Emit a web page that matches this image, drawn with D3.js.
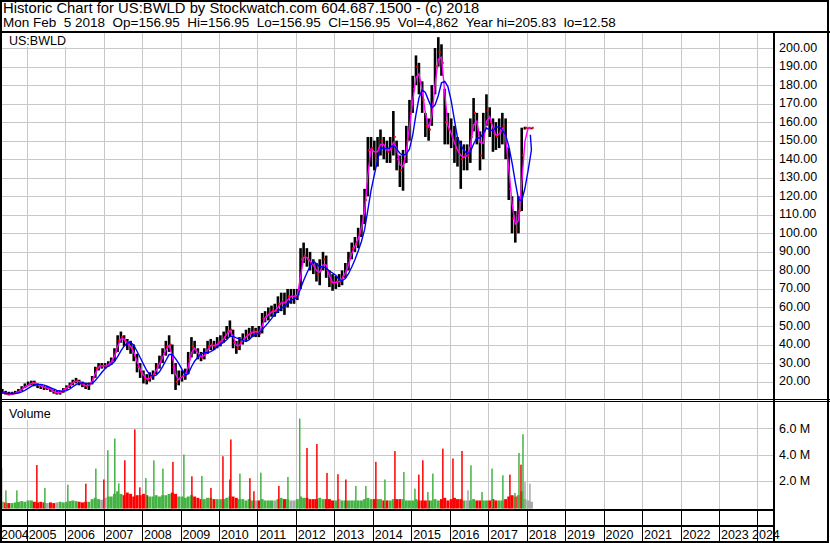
<!DOCTYPE html>
<html>
<head>
<meta charset="utf-8">
<script src="https://cdn.jsdelivr.net/npm/d3@7"></script>
<style>
  body { margin: 0; background: #fff; }
  text { font-family: "Liberation Sans", Arial, sans-serif; fill: #000; }
</style>
</head>
<body>
<div id="viz"></div>
<script>
// monthly bars, May 2004 .. Feb 2018
const firstMonth = "2004-05-15";
const lastMonth = "2018-02-15";
const lastDay = "2018-02-05";

const highs = [
  16, 15, 14.5, 14.5, 15, 16, 17.5, 19,
  20, 20.5, 20.5, 19, 18, 17.5, 17.5, 16.5, 15.5, 15, 15, 16.5,
  18, 19.5, 21, 22, 21, 20, 19, 19.5, 23, 28, 30, 30,
  30, 31, 33, 38, 45, 47, 45, 43, 42, 40, 35, 30,
  26, 24, 25, 26, 30, 34, 38, 42, 45, 40, 30, 26,
  26, 27, 36, 44, 42, 38, 36, 38, 42, 43, 42, 44,
  45, 47, 50, 53, 48, 42, 44, 46, 48, 49, 50, 49,
  50, 57, 58, 60, 61, 62, 66, 68, 68, 70, 70, 70,
  70, 92, 95, 92, 90, 86, 84, 86, 90, 88, 80, 78,
  77, 78, 80, 84, 90, 95, 98, 103, 110, 124, 152, 152,
  150, 152, 156, 152, 150, 152, 166, 150, 142, 145, 158, 172,
  185, 196, 192, 182, 165, 162, 180, 200, 205.83, 202, 178, 165,
  162, 158, 152, 150, 148, 148, 162, 173, 165, 155, 165, 175,
  168, 162, 160, 162, 165, 162, 146, 120, 112, 120, 157, 157.5,
  157, 156.95
];
const lows = [
  13.5, 13, 12.6, 12.8, 13.2, 14, 15, 16.5,
  17.5, 18, 17.5, 16.5, 16, 15.5, 15.5, 14.5, 13.5, 13, 13, 14,
  15.5, 16.5, 18, 19, 18, 17, 16, 15.5, 18.5, 22, 26, 27,
  27, 28, 29, 31, 36, 41, 39, 37, 35, 31, 25, 22,
  19, 18.5, 20, 21, 24, 27, 30, 34, 36, 24, 15.5, 18,
  20, 21, 24, 33, 35, 32, 31, 32, 35, 37, 37, 38,
  39, 41, 43, 44, 38, 35, 37, 40, 42, 43, 44, 44,
  44, 46, 52, 53, 55, 55, 57, 58, 56, 60, 62, 62,
  64, 70, 84, 82, 80, 78, 74, 72, 80, 76, 71, 69,
  70, 71, 72, 76, 80, 86, 90, 92, 98, 105, 120, 136,
  134, 136, 142, 140, 138, 138, 142, 134, 125, 123, 138, 150,
  165, 180, 175, 165, 152, 150, 158, 175, 190, 185, 148, 148,
  146, 138, 136, 124, 134, 134, 138, 155, 148, 134, 140, 158,
  152, 144, 145, 146, 148, 140, 118, 100, 95, 100, 112, 156,
  156.8, 156.95
];
const closes = [
  14, 13.5, 13.2, 13.5, 14, 15, 16.5, 17.5,
  18.5, 19.5, 19, 18, 17.5, 16.5, 16.5, 15.5, 14, 14, 14.5, 16,
  17, 18.5, 20, 20.5, 19.5, 18, 17.5, 18.5, 22, 27, 28.5, 28.5,
  28.5, 29.5, 31.5, 36, 42, 44, 42, 40, 38, 34, 28, 25,
  22, 21, 22.5, 24, 28, 31, 35, 39, 40, 28, 20, 22,
  23, 24, 32, 39, 37, 34, 33, 35, 39, 40, 39, 41,
  42, 44, 47, 48, 41, 38, 41, 43, 45, 46, 47, 47,
  46, 54, 55, 57, 58, 58, 62, 63, 62, 66, 66, 66,
  67, 86, 88, 86, 84, 82, 78, 80, 86, 80, 74, 73,
  74, 74, 77, 80, 86, 92, 94, 100, 106, 118, 145, 146,
  142, 146, 150, 146, 144, 146, 152, 140, 134, 138, 150, 165,
  178, 190, 182, 172, 158, 156, 170, 190, 198, 192, 160, 156,
  152, 146, 144, 140, 142, 142, 152, 165, 156, 142, 155, 166,
  160, 154, 152, 155, 158, 146, 124, 108, 102, 112, 142, 156.95,
  156.95, 156.95
];
// typical daily volume per month, millions
const volBase = [
  0.4, 0.35, 0.3, 0.3, 0.35, 0.4, 0.45, 0.4,
  0.5, 0.5, 0.4, 0.35, 0.4, 0.35, 0.3, 0.35, 0.3, 0.35, 0.4, 0.35,
  0.4, 0.45, 0.5, 0.45, 0.4, 0.35, 0.4, 0.4, 0.6, 0.7, 0.6, 0.55,
  0.7, 0.8, 0.8, 1.0, 1.2, 1.0, 0.9, 1.1, 1.0, 0.8, 0.9, 0.9,
  1.0, 0.9, 0.8, 0.8, 0.9, 0.8, 0.9, 0.9, 1.0, 1.1, 1.0, 0.8,
  0.8, 0.7, 0.8, 0.9, 0.8, 0.7, 0.6, 0.6, 0.7, 0.7, 0.6, 0.6,
  0.6, 0.6, 0.7, 0.8, 0.8, 0.7, 0.6, 0.6, 0.5, 0.6, 0.5, 0.5,
  0.5, 0.6, 0.5, 0.5, 0.5, 0.5, 0.6, 0.7, 0.6, 0.6, 0.5, 0.5,
  0.6, 0.8, 0.7, 0.7, 0.6, 0.6, 0.6, 0.7, 0.6, 0.6, 0.6, 0.5,
  0.5, 0.6, 0.5, 0.5, 0.5, 0.5, 0.5, 0.5, 0.5, 0.6, 0.7, 0.6,
  0.6, 0.6, 0.6, 0.5, 0.5, 0.5, 0.6, 0.6, 0.6, 0.6, 0.5, 0.5,
  0.5, 0.6, 0.5, 0.5, 0.5, 0.5, 0.5, 0.6, 0.5, 0.6, 0.7, 0.5,
  0.6, 0.7, 0.6, 0.6, 0.5, 0.5, 0.5, 0.6, 0.5, 0.5, 0.5, 0.5,
  0.5, 0.6, 0.5, 0.5, 0.5, 0.6, 0.8, 0.9, 0.8, 0.9, 1.2, 0.6,
  0.5, 0.4
];
// single heavy days: date, volume (M), up / down / unchanged
const volSpikes = [
  ["2004-05-09", 3.0, "u"], ["2004-06-18", 1.27, "g"], ["2004-09-30", 1.27, "g"],
  ["2005-04-08", 3.2, "r"], ["2005-06-23", 1.45, "g"], ["2006-01-27", 1.7, "g"],
  ["2006-07-17", 1.78, "r"], ["2006-10-20", 2.93, "g"], ["2007-01-04", 2.1, "r"],
  ["2007-02-11", 4.33, "g"], ["2007-04-18", 5.22, "g"], ["2007-05-26", 1.8, "g"],
  ["2007-07-22", 3.56, "r"], ["2007-10-25", 5.92, "r"], ["2007-12-12", 1.5, "r"],
  ["2008-02-07", 2.2, "g"], ["2008-04-23", 3.56, "g"], ["2008-07-18", 2.93, "g"],
  ["2008-10-21", 3.44, "r"], ["2009-02-02", 4.0, "g"], ["2009-04-19", 2.34, "r"],
  ["2009-07-23", 2.37, "g"], ["2009-10-17", 1.45, "r"], ["2010-02-08", 3.87, "r"],
  ["2010-04-15", 2.1, "r"], ["2010-04-24", 5.15, "r"], ["2010-07-19", 2.55, "g"],
  ["2010-10-22", 2.2, "r"], ["2010-11-29", 1.2, "r"], ["2011-02-03", 2.62, "g"],
  ["2011-07-24", 1.6, "r"], ["2011-10-18", 2.29, "g"], ["2012-02-07", 6.74, "g"],
  ["2012-04-16", 4.5, "r"], ["2012-07-19", 4.8, "r"], ["2012-10-23", 2.6, "r"],
  ["2013-02-04", 2.5, "r"], ["2013-04-20", 2.1, "r"], ["2013-07-24", 1.6, "g"],
  ["2013-10-27", 1.6, "g"], ["2014-01-30", 3.44, "r"], ["2014-04-26", 2.1, "g"],
  ["2014-07-30", 4.27, "r"], ["2014-10-23", 2.67, "g"], ["2015-02-05", 1.4, "g"],
  ["2015-03-14", 2.47, "r"], ["2015-04-21", 3.56, "r"], ["2015-06-08", 1.15, "g"],
  ["2015-07-25", 2.55, "g"], ["2015-10-28", 4.45, "r"], ["2016-02-01", 3.7, "r"],
  ["2016-04-27", 4.27, "r"], ["2016-06-23", 1.27, "u"], ["2016-07-21", 3.18, "g"],
  ["2016-11-03", 1.15, "g"], ["2017-02-06", 2.93, "g"], ["2017-05-20", 2.42, "g"],
  ["2017-07-26", 2.47, "r"], ["2017-09-12", 1.07, "g"], ["2017-10-20", 4.12, "g"],
  ["2017-11-08", 3.23, "r"], ["2017-11-27", 5.55, "g"], ["2017-12-16", 1.9, "u"],
  ["2018-02-01", 1.78, "u"]
];

const years = d3.range(2004, 2025);
const priceTicks = d3.range(20, 201, 10);
const volTicks = [2, 4, 6];

const title1 = "Historic Chart for US:BWLD by Stockwatch.com 604.687.1500 - (c) 2018";
const title2 = "Mon Feb  5 2018  Op=156.95  Hi=156.95  Lo=156.95  Cl=156.95  Vol=4,862  Year hi=205.83  lo=12.58";

const width = 830, height = 543;
const plotRight = 773;
const pricePanel = {top: 33, bottom: 399};
const volPanel = {top: 403, bottom: 509};

const parse = d3.timeParse("%Y-%m-%d");
const months = d3.timeMonth.range(d3.timeMonth.floor(parse(firstMonth)), d3.timeMonth.offset(parse(lastMonth), 1))
  .map(d => new Date(d.getFullYear(), d.getMonth(), 15));
months[months.length - 1] = parse(lastDay);

const bars = months.map((d, i) => ({
  date: d, high: highs[i], low: lows[i], close: closes[i], vol: volBase[i],
  dir: i === 0 ? "g" : (closes[i] > closes[i-1] ? "g" : closes[i] < closes[i-1] ? "r" : "u")
}));

// moving averages of the closes (short = magenta, long = blue)
function movAvg(n) {
  return bars.map((b, i) => {
    const w = closes.slice(Math.max(0, i - n + 1), i + 1);
    return {date: b.date, v: d3.mean(w)};
  });
}
const maShort = movAvg(2);
const maLong = movAvg(5);

const x = d3.scaleTime()
  .domain([new Date(2004, 3, 23), new Date(2024, 4, 28)])
  .range([0, plotRight]);
const yP = d3.scaleLinear().domain([20, 200]).range([381.6, 48]);
const yV = d3.scaleLinear().domain([0, 6]).range([507, 428.3]);

const volColor = {g: "#44b344", r: "#ff0000", u: "#a8a8a8"};

const svg = d3.select("#viz").append("svg")
  .attr("width", width)
  .attr("height", height)
  .style("display", "block")
  .style("background-color", "#fff");

svg.append("defs").append("clipPath").attr("id", "pclip")
  .append("rect").attr("x", 0).attr("y", pricePanel.top)
  .attr("width", plotRight).attr("height", pricePanel.bottom - pricePanel.top);

// grid
const grid = svg.append("g").attr("stroke", "#c8c8c8").attr("stroke-width", 1);
grid.selectAll(".hp").data(priceTicks).join("line")
  .attr("x1", 0).attr("x2", plotRight)
  .attr("y1", d => Math.round(yP(d)) + 0.5).attr("y2", d => Math.round(yP(d)) + 0.5);
grid.selectAll(".hv").data(volTicks).join("line")
  .attr("x1", 0).attr("x2", plotRight)
  .attr("y1", d => Math.round(yV(d)) + 0.5).attr("y2", d => Math.round(yV(d)) + 0.5);
grid.selectAll(".vp").data(years.slice(1)).join("line")
  .attr("x1", d => Math.round(x(new Date(d, 0, 1))) + 0.5)
  .attr("x2", d => Math.round(x(new Date(d, 0, 1))) + 0.5)
  .attr("y1", pricePanel.top).attr("y2", pricePanel.bottom);
grid.selectAll(".vv").data(years.slice(1)).join("line")
  .attr("x1", d => Math.round(x(new Date(d, 0, 1))) + 0.5)
  .attr("x2", d => Math.round(x(new Date(d, 0, 1))) + 0.5)
  .attr("y1", volPanel.top).attr("y2", volPanel.bottom);

// label boxes
svg.append("rect").attr("x", 2).attr("y", 33).attr("width", 64).attr("height", 14).attr("fill", "#fff");
svg.append("text").attr("x", 9).attr("y", 45).style("font-size", "12.5px").text("US:BWLD");
svg.append("rect").attr("x", 2).attr("y", 404).attr("width", 56).attr("height", 16).attr("fill", "#fff");
svg.append("text").attr("x", 9).attr("y", 418).style("font-size", "12.5px").text("Volume");

// price bars
const pg = svg.append("g").attr("clip-path", "url(#pclip)");
pg.selectAll(".bar").data(bars).join("rect")
  .attr("x", d => x(d.date) - 1.3)
  .attr("width", 2.6)
  .attr("y", d => yP(d.high))
  .attr("height", d => Math.max(1.5, yP(d.low) - yP(d.high)))
  .attr("fill", "#000");
pg.selectAll(".tick").data(bars).join("rect")
  .attr("x", d => x(d.date) + 0.3)
  .attr("width", 2)
  .attr("y", d => yP(d.close) - 1)
  .attr("height", 2)
  .attr("fill", "#ff0000");

const line = d3.line().x(d => x(d.date)).y(d => yP(d.v));
pg.append("path").datum(maShort).attr("d", line)
  .attr("fill", "none").attr("stroke", "#ff00ff").attr("stroke-width", 1.4);
pg.append("path").datum(maLong).attr("d", line)
  .attr("fill", "none").attr("stroke", "#0000ff").attr("stroke-width", 1.4);

// volume
const vg = svg.append("g");
vg.selectAll(".vb").data(bars).join("rect")
  .attr("x", d => x(d.date) - 1.5)
  .attr("width", 3)
  .attr("y", d => yV(d.vol))
  .attr("height", d => yV(0) - yV(d.vol) + 1.5)
  .attr("fill", d => volColor[d.dir]);
vg.selectAll(".vs").data(volSpikes).join("rect")
  .attr("x", d => x(parse(d[0])) - 0.75)
  .attr("width", 1.5)
  .attr("y", d => yV(d[1]))
  .attr("height", d => yV(0) - yV(d[1]) + 1.5)
  .attr("fill", d => volColor[d[2]]);

// frame and separators
const ln = (x1, y1, x2, y2, w) => svg.append("line")
  .attr("x1", x1).attr("y1", y1).attr("x2", x2).attr("y2", y2)
  .attr("stroke", "#000").attr("stroke-width", w);
svg.append("rect").attr("x", 1).attr("y", 1).attr("width", 827).attr("height", 541)
  .attr("fill", "none").attr("stroke", "#000").attr("stroke-width", 2);
ln(0, 32, width, 32, 2);
ln(0, 399.5, width, 399.5, 1);
ln(0, 401.5, width, 401.5, 1);
ln(774, 32, 774, height, 2);
ln(0, 510, 774, 510, 2);
ln(0, 526, 774, 526, 2);
svg.append("g").selectAll("line").data(years.slice(1)).join("line")
  .attr("x1", d => Math.round(x(new Date(d, 0, 1))) + 0.5)
  .attr("x2", d => Math.round(x(new Date(d, 0, 1))) + 0.5)
  .attr("y1", 510).attr("y2", 542)
  .attr("stroke", "#000").attr("stroke-width", 1);

// axis labels
svg.append("g").selectAll("text").data(priceTicks).join("text")
  .attr("x", 779).attr("y", d => yP(d) + 3.5)
  .style("font-size", "12.5px")
  .text(d => d.toFixed(2));
svg.append("g").selectAll("text").data(volTicks).join("text")
  .attr("x", 779).attr("y", d => yV(d) + 4.5)
  .style("font-size", "12.5px")
  .text(d => d.toFixed(1) + " M");
svg.append("g").selectAll("text").data(years).join("text")
  .attr("x", d => Math.max(1, Math.min(x(new Date(d, 0, 1)) + 2, 752)))
  .attr("y", 539)
  .style("font-size", "12.5px")
  .text(d => d);

// header
svg.append("text").attr("x", 3).attr("y", 13).style("font-size", "14.8px")
  .style("white-space", "pre").text(title1);
svg.append("text").attr("x", 3).attr("y", 27).style("font-size", "13.5px")
  .style("white-space", "pre").text(title2);
</script>
</body>
</html>
